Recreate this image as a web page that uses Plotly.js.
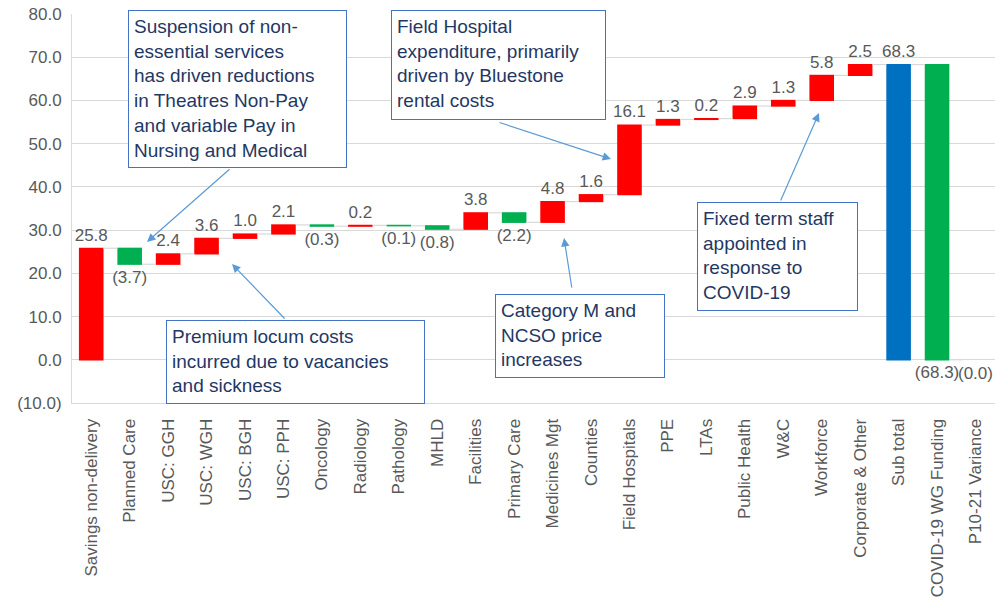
<!DOCTYPE html>
<html>
<head>
<meta charset="utf-8">
<script src="https://cdn.plot.ly/plotly-3.0.1.min.js"></script>
<style>html,body{margin:0;padding:0;background:#fff;}#chart{width:995px;height:604px;}</style>
</head>
<body>
<div id="chart"></div>
<script>
const categories = ["Savings non-delivery","Planned Care","USC: GGH","USC: WGH","USC: BGH","USC: PPH","Oncology","Radiology","Pathology","MHLD","Facilities","Primary Care","Medicines Mgt","Counties","Field Hospitals","PPE","LTAs","Public Health","W&C","Workforce","Corporate & Other","Sub total","COVID-19 WG Funding","P10-21 Variance"];
const values = [25.8,-3.7,2.4,3.6,1.0,2.1,-0.3,0.2,-0.1,-0.8,3.8,-2.2,4.8,1.6,16.1,1.3,0.2,2.9,1.3,5.8,2.5,68.3,-68.3,0.0];
const measures = ["relative","relative","relative","relative","relative","relative","relative","relative","relative","relative","relative","relative","relative","relative","relative","relative","relative","relative","relative","relative","relative","total","relative","total"];
const labels = ["25.8","(3.7)","2.4","3.6","1.0","2.1","(0.3)","0.2","(0.1)","(0.8)","3.8","(2.2)","4.8","1.6","16.1","1.3","0.2","2.9","1.3","5.8","2.5","68.3","(68.3)","(0.0)"];
const tickVals = [-10,0,10,20,30,40,50,60,70,80];
const tickText = ["(10.0)","0.0","10.0","20.0","30.0","40.0","50.0","60.0","70.0","80.0"];

const notes = [
  {text:"Suspension of non-<br>essential services<br>has driven reductions<br>in Theatres Non-Pay<br>and variable Pay in<br>Nursing and Medical", box:[128,10,347,168]},
  {text:"Field Hospital<br>expenditure, primarily<br>driven by Bluestone<br>rental costs", box:[391,10,606,120]},
  {text:"Fixed term staff<br>appointed in<br>response to<br>COVID-19", box:[697,202,858,311]},
  {text:"Premium locum costs<br>incurred due to vacancies<br>and sickness", box:[166,320,425,404]},
  {text:"Category M and<br>NCSO price<br>increases", box:[495,294,665,378]}
];
const arrows = [
  {tail:[231,168], head:[147,242]},
  {tail:[498,122], head:[611,159]},
  {tail:[780,202], head:[819,113]},
  {tail:[286,320], head:[232,264]},
  {tail:[572,289], head:[564,238]}
];

const W=995,H=604, mL=72, mR=0, mT=14, mB=201;
const pw=W-mL-mR, ph=H-mT-mB;
const px=x=>(x-mL)/pw, py=y=>(H-mB-y)/ph;
const pad=5;
const FONT='Arial, Liberation Sans, sans-serif';
const annotations=[];
notes.forEach(n=>{
  const [l,t,r,b]=n.box;
  annotations.push({xref:'paper',yref:'paper',x:px(l),y:py(t),xanchor:'left',yanchor:'top',
    text:n.text,showarrow:false,align:'left',valign:'top',
    width:(r-l)-2*pad-2,height:(b-t)-2*pad-2,borderpad:pad,
    bordercolor:'#4472c4',borderwidth:1,bgcolor:'#ffffff',
    font:{family:FONT,size:19,color:'#1f3864'}});
});
arrows.forEach(a=>{
  annotations.push({xref:'paper',yref:'paper',x:px(a.head[0]),y:py(a.head[1]),
    ax:a.tail[0]-a.head[0],ay:a.tail[1]-a.head[1],text:'',showarrow:true,
    arrowcolor:'#5b9bd5',arrowwidth:1.2,arrowhead:2,arrowsize:1.4});
});
// label for the zero-height last bar sits below the axis baseline
const lastIdx = categories.length-1;
annotations.push({xref:'x',yref:'y',x:categories[lastIdx],y:0,yanchor:'top',yshift:-2,
  text:labels[lastIdx],showarrow:false,font:{family:FONT,size:17,color:'#595959'}});
const barText = labels.map((t,i)=> i===lastIdx ? '' : t);

const trace={type:'waterfall',x:categories,y:values,measure:measures,
  text:barText,textposition:'outside',cliponaxis:false,constraintext:'none',
  textfont:{family:FONT,size:17,color:'#595959'},
  increasing:{marker:{color:'#ff0000'}},
  decreasing:{marker:{color:'#00b050'}},
  totals:{marker:{color:'#0070c0'}},
  connector:{line:{color:'#d9d9d9',width:1.2},mode:'between'},
  hoverinfo:'none'};

const layout={width:W,height:H,margin:{l:mL,r:mR,t:mT,b:mB},
  paper_bgcolor:'#fff',plot_bgcolor:'#fff',showlegend:false,waterfallgap:0.36,
  font:{family:FONT,color:'#595959'},
  xaxis:{type:'category',tickangle:-90,tickfont:{size:17,color:'#595959'},ticks:'',ticklabelstandoff:8,
    showline:true,linecolor:'#d9d9d9',showgrid:false,automargin:false},
  yaxis:{range:[-10,80],tickvals:tickVals,ticktext:tickText,tickfont:{size:17,color:'#595959'},
    gridcolor:'#d9d9d9',zeroline:true,zerolinecolor:'#d9d9d9',showline:true,linecolor:'#d9d9d9',
    ticks:'',ticklabelstandoff:6,automargin:false},
  annotations:annotations};
Plotly.newPlot('chart',[trace],layout,{staticPlot:true});
</script>
</body>
</html>
